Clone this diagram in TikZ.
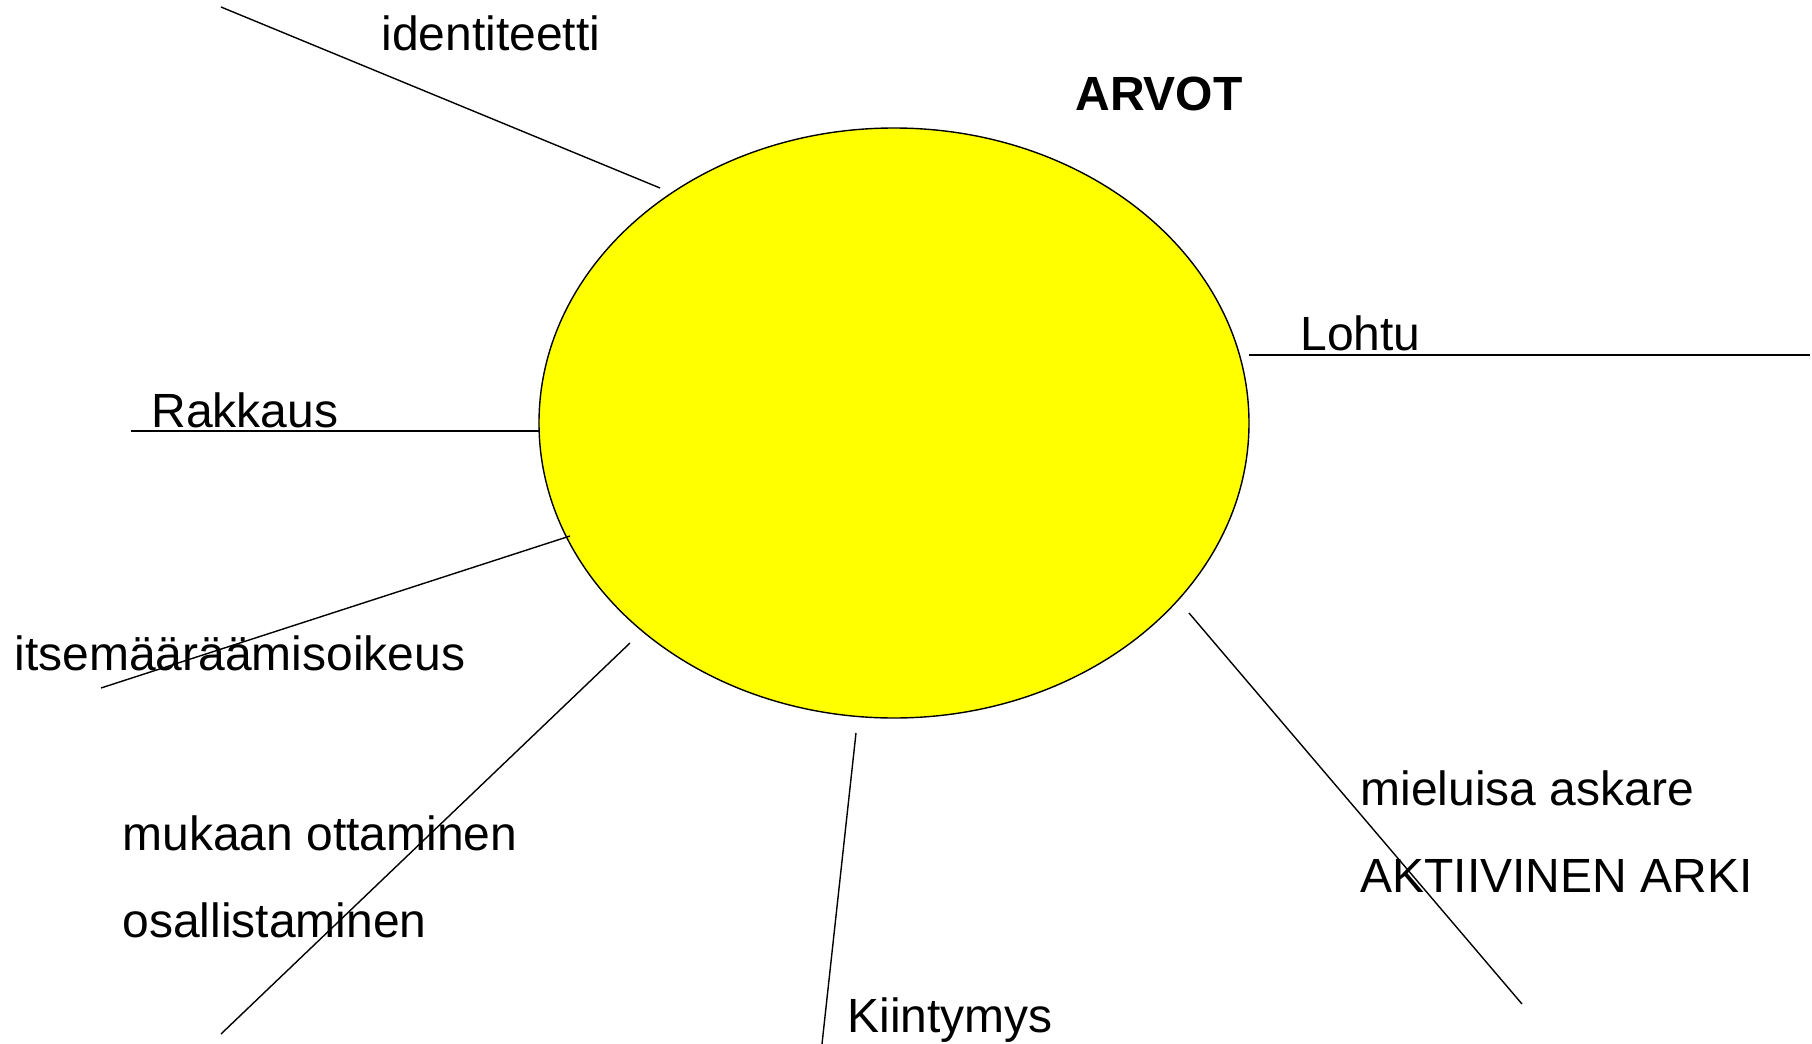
\documentclass[tikz,border=0pt]{standalone}
\usepackage{fontspec}
\setmainfont{Liberation Sans}
\usetikzlibrary{shapes.geometric}
\definecolor{sunyellow}{RGB}{255,255,0}

\begin{document}
\begin{tikzpicture}[
  x=0.5pt, y=-0.5pt,
  every node/.style={font=\fontsize{24}{28}\selectfont, inner sep=0pt},
  lbl/.style={anchor=base west},
  sun/.style={ellipse, draw, line width=0.7pt, fill=sunyellow,
              minimum width=355pt, minimum height=295pt},
  spoke/.style={draw, line width=0.7pt},
]
\useasboundingbox (0,0) rectangle (1812,1044);

\node[sun] (arvot) at (894,423) {};
\node[lbl, font=\fontsize{24}{28}\selectfont\bfseries] (title) at (1075,110) {ARVOT};

% spoke ends
\coordinate (idA) at (221,7);      \coordinate (idB) at (660,188);
\coordinate (loA) at (1249,355);   \coordinate (loB) at (1810,355);
\coordinate (raA) at (131,431);    \coordinate (raB) at (539,431);
\coordinate (itA) at (101,688);    \coordinate (itB) at (570,536);
\coordinate (muA) at (221,1034);   \coordinate (muB) at (630,643);
\coordinate (kiA) at (822,1044);   \coordinate (kiB) at (856,733);
\coordinate (meA) at (1189,613);   \coordinate (meB) at (1522,1004);

\draw[spoke] (idA) -- (idB);
\draw[spoke] (loA) -- (loB);
\draw[spoke] (raA) -- (raB);
\draw[spoke] (itA) -- (itB);
\draw[spoke] (muA) -- (muB);
\draw[spoke] (kiA) -- (kiB);
\draw[spoke] (meA) -- (meB);

% labels
\node[lbl] (ident) at (381,50) {identiteetti};
\node[lbl] (lohtu) at (1300,350) {Lohtu};
\node[lbl] (rakk) at (151,427) {Rakkaus};
\node[lbl] (itse) at (14,670) {itsemääräämisoikeus};
\node[lbl] (muk) at (122,850) {mukaan ottaminen};
\node[lbl] (osal) at (122,937) {osallistaminen};
\node[lbl] (kiin) at (847,1032) {Kiintymys};
\node[lbl] (miel) at (1360,805) {mieluisa askare};
\node[lbl] (akti) at (1360,892) {AKTIIVINEN ARKI};
\end{tikzpicture}
\end{document}
